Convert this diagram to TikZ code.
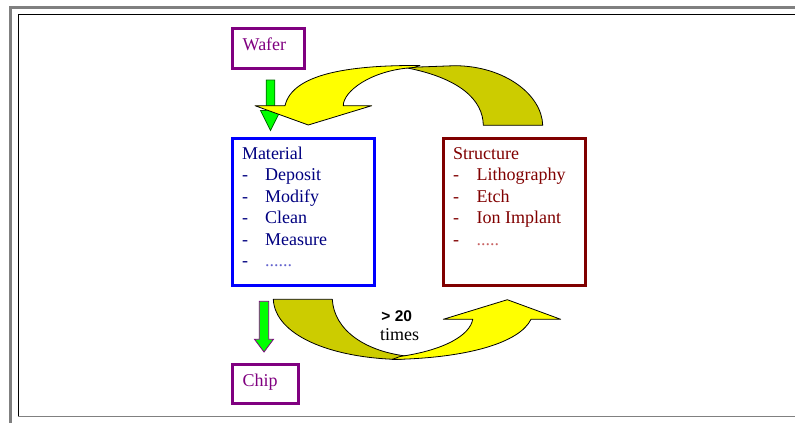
\documentclass[tikz,border=0pt]{standalone}
\usepackage{fontspec}
\setmainfont{Liberation Serif}
\newfontfamily\sansfam{Liberation Sans}
\usetikzlibrary{calc}
\definecolor{wpurple}{HTML}{800080}
\definecolor{mblue}{HTML}{0000FF}
\definecolor{mnavy}{HTML}{000080}
\definecolor{sred}{HTML}{800000}
\definecolor{ayellow}{HTML}{FFFF00}
\definecolor{adark}{HTML}{CCCC00}
\definecolor{agreen}{HTML}{00FF00}
\definecolor{gline}{HTML}{006600}
\definecolor{fgray}{HTML}{808080}
\definecolor{mdots}{RGB}{100,100,205}
\definecolor{sdots}{RGB}{200,100,100}
\begin{document}
\begin{tikzpicture}[x=1pt,y=-1pt,
  box/.style={draw=#1, line width=3pt, inner sep=0pt},
  txt/.style={anchor=base west, inner sep=0pt, font=\fontsize{18}{21.5}\selectfont},
  curvearrow/.style={draw=black, line width=0.8pt, line join=round},
  greenarrow/.style={draw=#1, fill=agreen, line width=0.8pt, line join=miter}
]
\useasboundingbox (0,0) rectangle (795,423);

% frame
\draw[fgray, line width=3pt] (795,7.2) -- (10.5,7.2) -- (10.5,423);
\draw[black, line width=0.9pt] (795,14.3) -- (18.3,14.3) -- (18.3,416);
\draw[fgray, line width=1.2pt] (18.3,416.6) -- (795,416.6);

% boxes
\node[box=wpurple, minimum width=72.7pt, minimum height=40.7pt] (wafer) at (268.35,48.35) {};
\node[box=mblue, minimum width=142.4pt, minimum height=147pt] (material) at (303.5,211.8) {};
\node[box=sred, minimum width=141.7pt, minimum height=147pt] (structure) at (514.15,211.8) {};
\node[box=wpurple, minimum width=66.7pt, minimum height=39.3pt] (chip) at (265.35,383.65) {};

% green arrows
\draw[greenarrow=gline] let \p1=($(wafer.south)+(2.15,9.8)$), \p2=($(material.north)+(-33,-6.3)$) in
  (\x1-4.3pt,\y1) -- (\x1+4.3pt,\y1) -- (\x1+4.3pt,\y2+20pt) -- (\x1+10pt,\y2+20pt) -- (\x1,\y2)
  -- (\x1-10pt,\y2+20pt) -- (\x1-4.3pt,\y2+20pt) -- cycle;
\draw[greenarrow=wpurple] let \p1=($(material.south)+(-39.5,14.5)$), \p2=($(chip.north)+(-1.35,-10.5)$) in
  (\x1-4.7pt,\y1) -- (\x1+4.7pt,\y1) -- (\x1+4.7pt,\y2+12.7pt) -- (\x1+9.5pt,\y2+12.7pt) -- (\x1,\y2)
  -- (\x1-9.5pt,\y2+12.7pt) -- (\x1-4.7pt,\y2+12.7pt) -- cycle;

% top curved arrow (structure -> material)
\filldraw[curvearrow, fill=adark] (483.3,125.3) .. controls (483,100) and (460,78) .. (405,67.5)
  -- (455,65.7) .. controls (505,66) and (542,95) .. (542.7,125.3) -- cycle;
\filldraw[curvearrow, fill=ayellow] (285,105.7) .. controls (292,75) and (345,65) .. (420,65.5)
  -- (414,67.5) .. controls (370,70) and (343,92) .. (343.3,105.7)
  -- (371.7,105.7) -- (308.3,125) -- (255,105.7) -- cycle;

% bottom curved arrow (material -> structure)
\filldraw[curvearrow, fill=adark] (273.3,299.3) -- (332.3,299.3) .. controls (334,330) and (365,352) .. (410,356.5)
  -- (400,359.5) .. controls (330,358) and (275,335) .. (273.3,299.3) -- cycle;
\filldraw[curvearrow, fill=ayellow] (392,359.5) .. controls (470,358) and (520,342) .. (531,319.3)
  -- (560.7,319.3) -- (507.3,299.7) -- (443.3,319.3) -- (472.7,319.3)
  .. controls (470,335) and (445,350) .. (400,356.5) -- cycle;

% texts
\node[txt, text=wpurple] (wafertxt) at (242.5,50) {Wafer};
\node[txt, text=wpurple] (chiptxt) at (242.5,386) {Chip};

\node[txt, text=mnavy] (m0) at (241.8,159) {Material};
\node[txt, text=mnavy] (m1) at (242,180.5) {\makebox[23pt][l]{-}Deposit};
\node[txt, text=mnavy] (m2) at (242,202) {\makebox[23pt][l]{-}Modify};
\node[txt, text=mnavy] (m3) at (242,223.5) {\makebox[23pt][l]{-}Clean};
\node[txt, text=mnavy] (m4) at (242,245) {\makebox[23pt][l]{-}Measure};
\node[txt, text=mnavy] (m5) at (242,266.5) {\makebox[23pt][l]{-}\textcolor{mdots}{......}};

\node[txt, text=sred] (s0) at (452.8,159) {Structure};
\node[txt, text=sred] (s1) at (453,180.5) {\makebox[23.5pt][l]{-}Lithography};
\node[txt, text=sred] (s2) at (453,202) {\makebox[23.5pt][l]{-}Etch};
\node[txt, text=sred] (s3) at (453,223.5) {\makebox[23.5pt][l]{-}Ion Implant};
\node[txt, text=sred] (s4) at (453,245) {\makebox[23.5pt][l]{-}\textcolor{sdots}{.....}};

\node[anchor=base, inner sep=0pt, font=\sansfam\bfseries\fontsize{15.5}{18}\selectfont] (count) at (396.7,321) {> 20};
\node[anchor=base, inner sep=0pt, font=\fontsize{18}{21.5}\selectfont] (times) at (399.7,340) {times};
\end{tikzpicture}
\end{document}
